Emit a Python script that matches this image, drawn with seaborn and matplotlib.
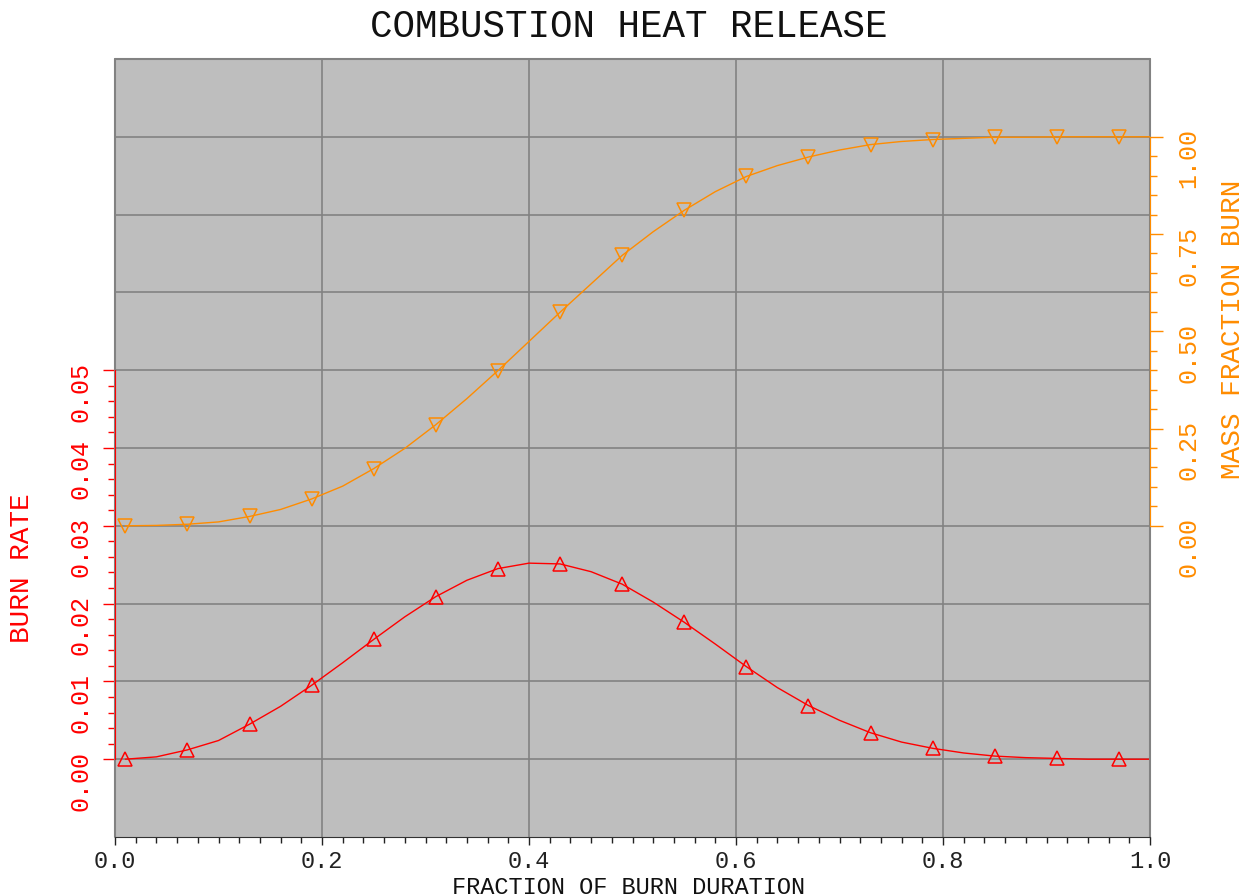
import numpy as np
import pandas as pd
import matplotlib
matplotlib.use("Agg")
import matplotlib.pyplot as plt
import seaborn as sns

# fraction of burn duration (markers on every other point)
burn_frac = [0.01, 0.04, 0.07, 0.10, 0.13, 0.16, 0.19, 0.22, 0.25, 0.28,
             0.31, 0.34, 0.37, 0.40, 0.43, 0.46, 0.49, 0.52, 0.55, 0.58,
             0.61, 0.64, 0.67, 0.70, 0.73, 0.76, 0.79, 0.82, 0.85, 0.88,
             0.91, 0.94, 0.97, 1.00]
burn_rate = [0.0000, 0.0003, 0.0012, 0.0024, 0.0045, 0.0068, 0.0095, 0.0124, 0.0154, 0.0183,
             0.0209, 0.0230, 0.0245, 0.0252, 0.0251, 0.0241, 0.0225, 0.0202, 0.0176, 0.0148,
             0.0119, 0.0092, 0.0069, 0.0050, 0.0034, 0.0022, 0.0014, 0.0008, 0.0004, 0.0002,
             0.0001, 0.0000, 0.0000, 0.0000]
mass_fraction = [0.000, 0.001, 0.004, 0.010, 0.024, 0.042, 0.069, 0.102, 0.147, 0.199,
                 0.260, 0.327, 0.399, 0.474, 0.549, 0.622, 0.695, 0.756, 0.811, 0.859,
                 0.898, 0.926, 0.948, 0.966, 0.980, 0.988, 0.993, 0.996, 0.999, 0.999,
                 1.000, 1.000, 1.000, 1.000]

x_ticks = [0.0, 0.2, 0.4, 0.6, 0.8, 1.0]
rate_ticks = [0.00, 0.01, 0.02, 0.03, 0.04, 0.05]
mfb_ticks = [0.00, 0.25, 0.50, 0.75, 1.00]

RED = "#ff0000"
ORANGE = "#ff8c00"
GRID = "#828282"
BG = "#bebebe"

sns.set_style("ticks")
plt.rcParams["font.family"] = ["Liberation Mono", "DejaVu Sans Mono"]

df = pd.DataFrame({"frac": burn_frac, "rate": burn_rate, "mfb": mass_fraction})

fig = plt.figure(figsize=(12.52, 8.95), dpi=100)
ax = fig.add_axes([115 / 1252, 57 / 895, 1035 / 1252, 778 / 895])
ax.set_facecolor(BG)
ax2 = ax.twinx()

# grid
ax.set_axisbelow(True)
ax.grid(axis="x", which="major", color=GRID, lw=1.2)
ax.hlines(np.arange(0, 0.0801, 0.01), 0, 1, color=GRID, lw=1.2, zorder=0.5)

sns.lineplot(data=df, x="frac", y="rate", ax=ax, color=RED, lw=1.0, sort=False,
             marker="^", markevery=2, ms=10, mfc="none", mec=RED, mew=1.1)
sns.lineplot(data=df, x="frac", y="mfb", ax=ax2, color=ORANGE, lw=1.0, sort=False,
             marker="v", markevery=2, ms=10, mfc="none", mec=ORANGE, mew=1.1)

ax.set_xlim(0, 1)
ax.set_ylim(-0.01, 0.09)
ax2.set_ylim(-0.8, 1.2)
ax.set_xlabel("")
ax.set_ylabel("")
ax2.set_ylabel("")

# x axis
ax.set_xticks(x_ticks)
ax.set_xticklabels([f"{v:.1f}" for v in x_ticks])
ax.set_xticks(np.arange(0, 1.001, 0.02), minor=True)
ax.tick_params(axis="x", which="major", direction="out", length=6, width=1,
               colors="#222222", labelsize=17, pad=3)
ax.tick_params(axis="x", which="minor", direction="out", length=4, width=1, colors="#222222")

# left axis (burn rate)
ax.set_yticks(rate_ticks)
ax.set_yticklabels([f"{v:.2f}" for v in rate_ticks])
ax.set_yticks(np.arange(0, 0.0501, 0.002), minor=True)
ax.tick_params(axis="y", which="major", direction="out", length=9, width=1,
               colors=RED, labelsize=18, pad=7, labelrotation=90)
ax.tick_params(axis="y", which="minor", direction="out", length=5, width=1, colors=RED)

# right axis (mass fraction burn)
ax2.set_yticks(mfb_ticks)
ax2.set_yticklabels([f"{v:.2f}" for v in mfb_ticks])
ax2.set_yticks(np.arange(0, 1.001, 0.05), minor=True)
ax2.tick_params(axis="y", which="major", direction="out", length=9, width=1,
                colors=ORANGE, labelsize=18, pad=10, labelrotation=90)
ax2.tick_params(axis="y", which="minor", direction="out", length=5, width=1, colors=ORANGE)

# frame
for side in ["top", "right"]:
    ax.spines[side].set_visible(False)
for side in ["top", "left", "bottom"]:
    ax2.spines[side].set_visible(False)
ax.spines["bottom"].set_color("#333333")
ax.spines["left"].set_color(RED)
ax.spines["left"].set_bounds(0, 0.05)
ax2.spines["right"].set_color(ORANGE)
ax2.spines["right"].set_bounds(0, 1)
ax.axvline(0, color=GRID, lw=1.5, zorder=2.4, clip_on=False)
ax.axvline(1, color=GRID, lw=1.5, zorder=2.4, clip_on=False)
ax.axhline(0.09, color=GRID, lw=1.5, zorder=2.4, clip_on=False)

# texts
fig.text(629 / 1252, 1 - 27 / 895, "COMBUSTION HEAT RELEASE", ha="center", va="center",
         fontsize=27, color="#111111")
fig.text(629 / 1252, 1 - 876 / 895, "FRACTION OF BURN DURATION", ha="center", va="top",
         fontsize=17, color="#111111")
fig.text(22 / 1252, 1 - 568 / 895, "BURN RATE", ha="center", va="center", rotation=90,
         fontsize=20, color=RED)
fig.text(1233 / 1252, 1 - 329 / 895, "MASS FRACTION BURN", ha="center", va="center",
         rotation=90, fontsize=20, color=ORANGE)

fig.savefig("out.png", dpi=100, facecolor="white")
